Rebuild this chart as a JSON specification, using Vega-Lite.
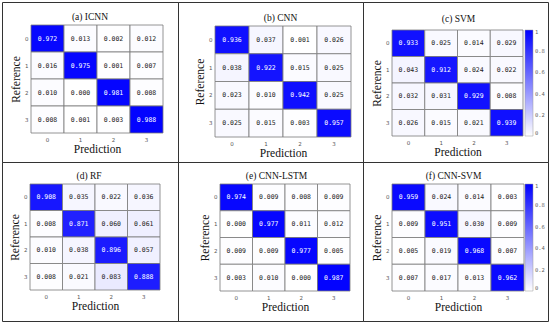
{
  "$schema": "https://vega.github.io/schema/vega-lite/v6.json",
  "padding": {"left": 1, "top": 1, "right": 3, "bottom": 3},
  "background": "white",
  "data": {"values": [
    {"m": "a", "r": "0", "p": "0", "v": 0.972}, {"m": "a", "r": "0", "p": "1", "v": 0.013}, {"m": "a", "r": "0", "p": "2", "v": 0.002}, {"m": "a", "r": "0", "p": "3", "v": 0.012},
    {"m": "a", "r": "1", "p": "0", "v": 0.016}, {"m": "a", "r": "1", "p": "1", "v": 0.975}, {"m": "a", "r": "1", "p": "2", "v": 0.001}, {"m": "a", "r": "1", "p": "3", "v": 0.007},
    {"m": "a", "r": "2", "p": "0", "v": 0.010}, {"m": "a", "r": "2", "p": "1", "v": 0.000}, {"m": "a", "r": "2", "p": "2", "v": 0.981}, {"m": "a", "r": "2", "p": "3", "v": 0.008},
    {"m": "a", "r": "3", "p": "0", "v": 0.008}, {"m": "a", "r": "3", "p": "1", "v": 0.001}, {"m": "a", "r": "3", "p": "2", "v": 0.003}, {"m": "a", "r": "3", "p": "3", "v": 0.988},
    {"m": "b", "r": "0", "p": "0", "v": 0.936}, {"m": "b", "r": "0", "p": "1", "v": 0.037}, {"m": "b", "r": "0", "p": "2", "v": 0.001}, {"m": "b", "r": "0", "p": "3", "v": 0.026},
    {"m": "b", "r": "1", "p": "0", "v": 0.038}, {"m": "b", "r": "1", "p": "1", "v": 0.922}, {"m": "b", "r": "1", "p": "2", "v": 0.015}, {"m": "b", "r": "1", "p": "3", "v": 0.025},
    {"m": "b", "r": "2", "p": "0", "v": 0.023}, {"m": "b", "r": "2", "p": "1", "v": 0.010}, {"m": "b", "r": "2", "p": "2", "v": 0.942}, {"m": "b", "r": "2", "p": "3", "v": 0.025},
    {"m": "b", "r": "3", "p": "0", "v": 0.025}, {"m": "b", "r": "3", "p": "1", "v": 0.015}, {"m": "b", "r": "3", "p": "2", "v": 0.003}, {"m": "b", "r": "3", "p": "3", "v": 0.957},
    {"m": "c", "r": "0", "p": "0", "v": 0.933}, {"m": "c", "r": "0", "p": "1", "v": 0.025}, {"m": "c", "r": "0", "p": "2", "v": 0.014}, {"m": "c", "r": "0", "p": "3", "v": 0.029},
    {"m": "c", "r": "1", "p": "0", "v": 0.043}, {"m": "c", "r": "1", "p": "1", "v": 0.912}, {"m": "c", "r": "1", "p": "2", "v": 0.024}, {"m": "c", "r": "1", "p": "3", "v": 0.022},
    {"m": "c", "r": "2", "p": "0", "v": 0.032}, {"m": "c", "r": "2", "p": "1", "v": 0.031}, {"m": "c", "r": "2", "p": "2", "v": 0.929}, {"m": "c", "r": "2", "p": "3", "v": 0.008},
    {"m": "c", "r": "3", "p": "0", "v": 0.026}, {"m": "c", "r": "3", "p": "1", "v": 0.015}, {"m": "c", "r": "3", "p": "2", "v": 0.021}, {"m": "c", "r": "3", "p": "3", "v": 0.939},
    {"m": "d", "r": "0", "p": "0", "v": 0.908}, {"m": "d", "r": "0", "p": "1", "v": 0.035}, {"m": "d", "r": "0", "p": "2", "v": 0.022}, {"m": "d", "r": "0", "p": "3", "v": 0.036},
    {"m": "d", "r": "1", "p": "0", "v": 0.008}, {"m": "d", "r": "1", "p": "1", "v": 0.871}, {"m": "d", "r": "1", "p": "2", "v": 0.060}, {"m": "d", "r": "1", "p": "3", "v": 0.061},
    {"m": "d", "r": "2", "p": "0", "v": 0.010}, {"m": "d", "r": "2", "p": "1", "v": 0.038}, {"m": "d", "r": "2", "p": "2", "v": 0.896}, {"m": "d", "r": "2", "p": "3", "v": 0.057},
    {"m": "d", "r": "3", "p": "0", "v": 0.008}, {"m": "d", "r": "3", "p": "1", "v": 0.021}, {"m": "d", "r": "3", "p": "2", "v": 0.083}, {"m": "d", "r": "3", "p": "3", "v": 0.888},
    {"m": "e", "r": "0", "p": "0", "v": 0.974}, {"m": "e", "r": "0", "p": "1", "v": 0.009}, {"m": "e", "r": "0", "p": "2", "v": 0.008}, {"m": "e", "r": "0", "p": "3", "v": 0.009},
    {"m": "e", "r": "1", "p": "0", "v": 0.000}, {"m": "e", "r": "1", "p": "1", "v": 0.977}, {"m": "e", "r": "1", "p": "2", "v": 0.011}, {"m": "e", "r": "1", "p": "3", "v": 0.012},
    {"m": "e", "r": "2", "p": "0", "v": 0.009}, {"m": "e", "r": "2", "p": "1", "v": 0.009}, {"m": "e", "r": "2", "p": "2", "v": 0.977}, {"m": "e", "r": "2", "p": "3", "v": 0.005},
    {"m": "e", "r": "3", "p": "0", "v": 0.003}, {"m": "e", "r": "3", "p": "1", "v": 0.010}, {"m": "e", "r": "3", "p": "2", "v": 0.000}, {"m": "e", "r": "3", "p": "3", "v": 0.987},
    {"m": "f", "r": "0", "p": "0", "v": 0.959}, {"m": "f", "r": "0", "p": "1", "v": 0.024}, {"m": "f", "r": "0", "p": "2", "v": 0.014}, {"m": "f", "r": "0", "p": "3", "v": 0.003},
    {"m": "f", "r": "1", "p": "0", "v": 0.009}, {"m": "f", "r": "1", "p": "1", "v": 0.951}, {"m": "f", "r": "1", "p": "2", "v": 0.030}, {"m": "f", "r": "1", "p": "3", "v": 0.009},
    {"m": "f", "r": "2", "p": "0", "v": 0.005}, {"m": "f", "r": "2", "p": "1", "v": 0.019}, {"m": "f", "r": "2", "p": "2", "v": 0.968}, {"m": "f", "r": "2", "p": "3", "v": 0.007},
    {"m": "f", "r": "3", "p": "0", "v": 0.007}, {"m": "f", "r": "3", "p": "1", "v": 0.017}, {"m": "f", "r": "3", "p": "2", "v": 0.013}, {"m": "f", "r": "3", "p": "3", "v": 0.962}
  ]},
  "columns": 3,
  "spacing": 0,
  "bounds": "flush",
  "resolve": {"scale": {"color": "independent", "x": "independent", "y": "independent"}, "legend": {"color": "independent"}},
  "concat": [
    {
      "width": 176, "height": 160,
      "title": {"text": "(a) ICNN", "offset": -19, "dx": 0},
      "transform": [{"filter": "datum.m == 'a'"}],
      "encoding": {
        "x": {"field": "p", "type": "ordinal", "scale": {"range": [29, 161], "paddingInner": 0, "paddingOuter": 0}, "axis": {"offset": -29, "title": "Prediction"}},
        "y": {"field": "r", "type": "ordinal", "scale": {"range": [23, 131], "paddingInner": 0, "paddingOuter": 0}, "axis": {"offset": -29, "title": "Reference"}}
      },
      "layer": [
        {"mark": {"type": "rect", "stroke": "#7a7a7a", "strokeWidth": 0.8}, "encoding": {"color": {"field": "v", "type": "quantitative", "scale": {"domain": [0, 1], "range": ["#ffffff", "#0000ff"], "interpolate": "rgb"}, "legend": null}}},
        {"mark": {"type": "text", "font": "DejaVu Sans Mono", "fontSize": 6.5}, "encoding": {"text": {"field": "v", "type": "quantitative", "format": ".3f"}, "color": {"condition": {"test": "datum.v > 0.5", "value": "white"}, "value": "#222"}}}
      ]
    },
    {
      "width": 185, "height": 160,
      "title": {"text": "(b) CNN", "offset": -20, "dx": 10},
      "transform": [{"filter": "datum.m == 'b'"}],
      "encoding": {
        "x": {"field": "p", "type": "ordinal", "scale": {"range": [37, 173], "paddingInner": 0, "paddingOuter": 0}, "axis": {"offset": -25, "title": "Prediction"}},
        "y": {"field": "r", "type": "ordinal", "scale": {"range": [24, 135], "paddingInner": 0, "paddingOuter": 0}, "axis": {"offset": -37, "title": "Reference"}}
      },
      "layer": [
        {"mark": {"type": "rect", "stroke": "#7a7a7a", "strokeWidth": 0.8}, "encoding": {"color": {"field": "v", "type": "quantitative", "scale": {"domain": [0, 1], "range": ["#ffffff", "#0000ff"], "interpolate": "rgb"}, "legend": null}}},
        {"mark": {"type": "text", "font": "DejaVu Sans Mono", "fontSize": 6.5}, "encoding": {"text": {"field": "v", "type": "quantitative", "format": ".3f"}, "color": {"condition": {"test": "datum.v > 0.5", "value": "white"}, "value": "#222"}}}
      ]
    },
    {
      "width": 185, "height": 160,
      "title": {"text": "(c)  SVM", "offset": -21, "dx": 3},
      "transform": [{"filter": "datum.m == 'c'"}],
      "encoding": {
        "x": {"field": "p", "type": "ordinal", "scale": {"range": [29, 160], "paddingInner": 0, "paddingOuter": 0}, "axis": {"offset": -26, "title": "Prediction"}},
        "y": {"field": "r", "type": "ordinal", "scale": {"range": [28, 134], "paddingInner": 0, "paddingOuter": 0}, "axis": {"offset": -29, "title": "Reference"}}
      },
      "layer": [
        {"mark": {"type": "rect", "stroke": "#7a7a7a", "strokeWidth": 0.8}, "encoding": {"color": {"field": "v", "type": "quantitative", "scale": {"domain": [0, 1], "range": ["#ffffff", "#0000ff"], "interpolate": "rgb"}, "legend": {"orient": "none", "legendX": 162, "legendY": 28, "direction": "vertical", "gradientLength": 106, "gradientThickness": 8, "title": null, "values": [0, 0.2, 0.4, 0.6, 0.8, 1], "format": ".1~f", "labelFontSize": 5.5, "labelFont": "DejaVu Sans Mono", "labelColor": "#666", "labelOverlap": false, "labelOffset": 2, "gradientStrokeColor": "#999", "gradientStrokeWidth": 0.5}}}},
        {"mark": {"type": "text", "font": "DejaVu Sans Mono", "fontSize": 6.5}, "encoding": {"text": {"field": "v", "type": "quantitative", "format": ".3f"}, "color": {"condition": {"test": "datum.v > 0.5", "value": "white"}, "value": "#222"}}}
      ]
    },
    {
      "width": 176, "height": 159,
      "title": {"text": "(d) RF", "offset": -18, "dx": -1},
      "transform": [{"filter": "datum.m == 'd'"}],
      "encoding": {
        "x": {"field": "p", "type": "ordinal", "scale": {"range": [28, 158], "paddingInner": 0, "paddingOuter": 0}, "axis": {"offset": -31, "title": "Prediction"}},
        "y": {"field": "r", "type": "ordinal", "scale": {"range": [22, 128], "paddingInner": 0, "paddingOuter": 0}, "axis": {"offset": -28, "title": "Reference"}}
      },
      "layer": [
        {"mark": {"type": "rect", "stroke": "#7a7a7a", "strokeWidth": 0.8}, "encoding": {"color": {"field": "v", "type": "quantitative", "scale": {"domain": [0, 1], "range": ["#ffffff", "#0000ff"], "interpolate": "rgb"}, "legend": null}}},
        {"mark": {"type": "text", "font": "DejaVu Sans Mono", "fontSize": 6.5}, "encoding": {"text": {"field": "v", "type": "quantitative", "format": ".3f"}, "color": {"condition": {"test": "datum.v > 0.5", "value": "white"}, "value": "#222"}}}
      ]
    },
    {
      "width": 185, "height": 159,
      "title": {"text": "(e) CNN-LSTM", "offset": -18, "dx": 6},
      "transform": [{"filter": "datum.m == 'e'"}],
      "encoding": {
        "x": {"field": "p", "type": "ordinal", "scale": {"range": [42, 172], "paddingInner": 0, "paddingOuter": 0}, "axis": {"offset": -30, "title": "Prediction"}},
        "y": {"field": "r", "type": "ordinal", "scale": {"range": [22, 129], "paddingInner": 0, "paddingOuter": 0}, "axis": {"offset": -42, "title": "Reference"}}
      },
      "layer": [
        {"mark": {"type": "rect", "stroke": "#7a7a7a", "strokeWidth": 0.8}, "encoding": {"color": {"field": "v", "type": "quantitative", "scale": {"domain": [0, 1], "range": ["#ffffff", "#0000ff"], "interpolate": "rgb"}, "legend": null}}},
        {"mark": {"type": "text", "font": "DejaVu Sans Mono", "fontSize": 6.5}, "encoding": {"text": {"field": "v", "type": "quantitative", "format": ".3f"}, "color": {"condition": {"test": "datum.v > 0.5", "value": "white"}, "value": "#222"}}}
      ]
    },
    {
      "width": 185, "height": 159,
      "title": {"text": "(f) CNN-SVM", "offset": -18, "dx": -2},
      "transform": [{"filter": "datum.m == 'f'"}],
      "encoding": {
        "x": {"field": "p", "type": "ordinal", "scale": {"range": [29, 161], "paddingInner": 0, "paddingOuter": 0}, "axis": {"offset": -30, "title": "Prediction"}},
        "y": {"field": "r", "type": "ordinal", "scale": {"range": [22, 129], "paddingInner": 0, "paddingOuter": 0}, "axis": {"offset": -29, "title": "Reference"}}
      },
      "layer": [
        {"mark": {"type": "rect", "stroke": "#7a7a7a", "strokeWidth": 0.8}, "encoding": {"color": {"field": "v", "type": "quantitative", "scale": {"domain": [0, 1], "range": ["#ffffff", "#0000ff"], "interpolate": "rgb"}, "legend": {"orient": "none", "legendX": 162, "legendY": 22, "direction": "vertical", "gradientLength": 107, "gradientThickness": 8, "title": null, "values": [0, 0.2, 0.4, 0.6, 0.8, 1], "format": ".1~f", "labelFontSize": 5.5, "labelFont": "DejaVu Sans Mono", "labelColor": "#666", "labelOverlap": false, "labelOffset": 2, "gradientStrokeColor": "#999", "gradientStrokeWidth": 0.5}}}},
        {"mark": {"type": "text", "font": "DejaVu Sans Mono", "fontSize": 6.5}, "encoding": {"text": {"field": "v", "type": "quantitative", "format": ".3f"}, "color": {"condition": {"test": "datum.v > 0.5", "value": "white"}, "value": "#222"}}}
      ]
    }
  ],
  "config": {
    "view": {"stroke": "#333", "strokeWidth": 1},
    "axis": {"domain": false, "ticks": false, "grid": false, "labelAngle": 0, "labelFont": "DejaVu Sans", "labelFontSize": 5.5, "labelColor": "#555", "labelPadding": 4, "titleFont": "Liberation Serif, Times New Roman, serif", "titleFontSize": 11.5, "titleFontWeight": 400, "titleColor": "#111", "titlePadding": 1},
    "axisY": {"labelPadding": 3, "titlePadding": 3},
    "title": {"font": "Liberation Serif, Times New Roman, serif", "fontSize": 9.5, "fontWeight": 400, "color": "#111", "anchor": "middle", "frame": "group"}
  }
}
